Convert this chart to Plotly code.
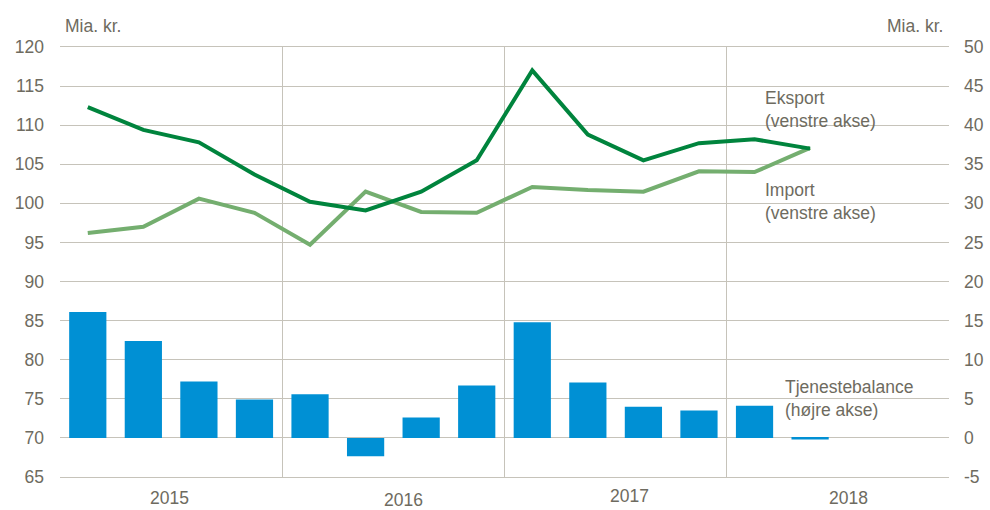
import plotly.graph_objects as go

quarters = ["2015K1","2015K2","2015K3","2015K4","2016K1","2016K2","2016K3","2016K4",
            "2017K1","2017K2","2017K3","2017K4","2018K1","2018K2"]
eksport = [112.3,109.4,107.8,103.7,100.2,99.1,101.5,105.5,117.0,108.8,105.5,107.7,108.2,107.0]
importv = [96.2,97.0,100.6,98.8,94.7,101.5,98.9,98.8,102.1,101.7,101.5,104.1,104.0,107.1]
tjeneste = [16.1,12.4,7.2,4.9,5.6,-2.35,2.6,6.7,14.8,7.1,4.0,3.5,4.1,-0.2]
years = ["2015","2016","2017","2018"]
year_label_x = [1.47,5.69,9.75,13.7]
year_label_y = [-0.049,-0.053,-0.044,-0.049]
right_ticks = [-5,0,5,10,15,20,25,30,35,40,45,50]
right_ticktext = ["-5","0","5","10","15","20","25","30","35","40","45","50"]

xs = list(range(len(quarters)))
grid = "#C6C3BA"
txt = "#6E6B60"
font = "Liberation Sans, Arial, sans-serif"
fs = 17.5

fig = go.Figure()
fig.add_trace(go.Bar(x=xs, y=tjeneste, yaxis="y2", marker=dict(color="#0090D4", line=dict(width=0)),
                     width=0.67, name="Tjenestebalance", hovertext=quarters))
fig.add_trace(go.Scatter(x=xs, y=importv, mode="lines", line=dict(color="#74AE6F", width=4),
                         name="Import", hovertext=quarters))
fig.add_trace(go.Scatter(x=xs, y=eksport, mode="lines", line=dict(color="#00843D", width=4),
                         name="Eksport", hovertext=quarters))

ann = []
for yl, xv, yv in zip(years, year_label_x, year_label_y):
    ann.append(dict(x=xv, y=yv, xref="x", yref="paper", text=yl, showarrow=False,
                    xanchor="center", yanchor="middle", font=dict(size=fs, color=txt, family=font)))
ann.append(dict(x=0.003, y=1.049, xref="paper", yref="paper", text="Mia. kr.", showarrow=False,
                xanchor="left", yanchor="middle", font=dict(size=fs, color=txt, family=font)))
ann.append(dict(x=0.996, y=1.049, xref="paper", yref="paper", text="Mia. kr.", showarrow=False,
                xanchor="right", yanchor="middle", font=dict(size=fs, color=txt, family=font)))
ann.append(dict(x=12.15, y=112.05, xref="x", yref="y", text="Eksport<br>(venstre akse)", showarrow=False,
                xanchor="left", yanchor="middle", align="left", font=dict(size=fs, color=txt, family=font)))
ann.append(dict(x=12.15, y=100.25, xref="x", yref="y", text="Import<br>(venstre akse)", showarrow=False,
                xanchor="left", yanchor="middle", align="left", font=dict(size=fs, color=txt, family=font)))
ann.append(dict(x=12.52, y=75.03, xref="x", yref="y", text="Tjenestebalance<br>(højre akse)", showarrow=False,
                xanchor="left", yanchor="middle", align="left", font=dict(size=fs, color=txt, family=font)))

fig.update_layout(
    width=990, height=510,
    margin=dict(l=60, r=41, t=47, b=33, autoexpand=False),
    paper_bgcolor="white", plot_bgcolor="white",
    showlegend=False,
    xaxis=dict(range=[-0.5, 15.5], tickvals=[3.5, 7.5, 11.5], ticktext=["", "", ""],
               showgrid=True, gridcolor=grid, gridwidth=1, showline=True, linecolor=grid,
               linewidth=1, mirror=True, zeroline=False, ticks="", automargin=False),
    yaxis=dict(range=[65, 120], dtick=5, tick0=65, showgrid=True, gridcolor=grid, gridwidth=1,
               zeroline=False, showline=False, ticks="", ticklabelstandoff=15, automargin=False,
               tickfont=dict(size=fs, color=txt, family=font)),
    yaxis2=dict(range=[-5, 50], tickvals=right_ticks, ticktext=right_ticktext,
                overlaying="y", side="right", showgrid=False,
                zeroline=False, showline=False, ticks="", ticklabelstandoff=14, automargin=False,
                tickfont=dict(size=fs, color=txt, family=font)),
    annotations=ann,
)
fig.write_html("out.html", config={"displayModeBar": False},
               post_script="document.body.style.margin='0';document.body.style.overflow='hidden';")
